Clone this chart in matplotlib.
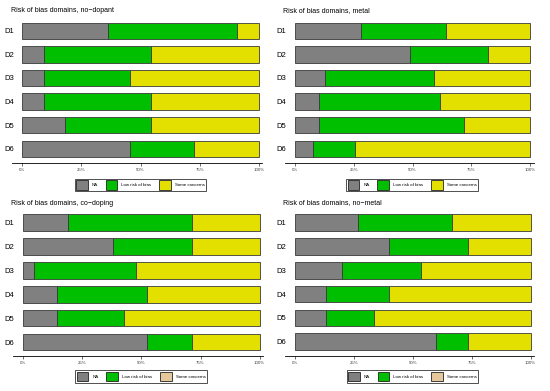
import numpy as np
import matplotlib
matplotlib.use('Agg')
import matplotlib.pyplot as plt
from matplotlib.patches import Patch

plt.rcParams['font.family'] = ['Liberation Sans', 'DejaVu Sans']

W, H = 550, 391

domains = ['D1', 'D2', 'D3', 'D4', 'D5', 'D6']
categories = ['NA', 'Low risk of bias', 'Some concerns']

titles = ['Risk of bias domains, no\u2212dopant',
          'Risk of bias domains, metal',
          'Risk of bias domains, co\u2212doping',
          'Risk of bias domains, no\u2212metal']

# number of studies per domain: NA, low risk, some concerns
nodopant_na = [4, 1, 1, 1, 2, 5]
nodopant_low = [6, 5, 4, 5, 4, 3]
nodopant_some = [1, 5, 6, 5, 5, 3]

metal_na = [11, 19, 5, 4, 4, 3]
metal_low = [14, 13, 18, 20, 24, 7]
metal_some = [14, 7, 16, 15, 11, 29]

codoping_na = [4, 8, 1, 3, 3, 11]
codoping_low = [11, 7, 9, 8, 6, 4]
codoping_some = [6, 6, 11, 10, 12, 6]

nometal_na = [4, 6, 3, 2, 2, 9]
nometal_low = [6, 5, 5, 4, 3, 2]
nometal_some = [5, 4, 7, 9, 10, 4]

col_na = '#808080'
col_low = '#00bf00'
col_some = '#e3e000'
col_some_legend = ['#e3e000', '#e3e000', '#e4c89c', '#e4c89c']

# pixel layout per panel: x of 0%, x of 100%, y of D1 centre, y of D6 centre, legend box, title pos
panels = [
    (22.3, 259.0, 30.8, 148.7, (73, 177, 208, 193), (11, 11)),
    (295.0, 530.3, 30.8, 148.7, (345, 177, 479, 193), (283, 11)),
    (23.0, 259.7, 222.7, 342.0, (73, 368, 209, 385), (11, 203)),
    (295.0, 530.7, 222.7, 341.7, (345, 368, 480, 385), (283, 203)),
]

data = [(nodopant_na, nodopant_low, nodopant_some),
        (metal_na, metal_low, metal_some),
        (codoping_na, codoping_low, codoping_some),
        (nometal_na, nometal_low, nometal_some)]

fig = plt.figure(figsize=(W / 100, H / 100), dpi=100)

for i in range(4):
    x0, x100, yc1, yc6, lbox, tpos = panels[i]
    na, low, some = [np.array(v, dtype=float) for v in data[i]]
    tot = na + low + some
    na_p = na / tot * 100
    low_p = low / tot * 100
    some_p = some / tot * 100

    sx = (x100 - x0) / 100.0
    sp = (yc6 - yc1) / 5.0
    xl, xr = -4.3, 101.4
    yt, yb = -0.6, 5.6
    left = x0 + xl * sx
    right = x0 + xr * sx
    top = yc1 + yt * sp
    bottom = yc1 + yb * sp
    ax = fig.add_axes([left / W, 1 - bottom / H, (right - left) / W, (bottom - top) / H])

    y = np.arange(len(domains))
    kw = dict(height=0.69, edgecolor='#3a3a3a', linewidth=0.6)
    ax.barh(y, na_p, color=col_na, **kw)
    ax.barh(y, low_p, left=na_p, color=col_low, **kw)
    ax.barh(y, some_p, left=na_p + low_p, color=col_some, **kw)

    ax.set_xlim(xl, xr)
    ax.set_ylim(yb, yt)
    ax.set_yticks(y)
    ax.set_yticklabels(domains, fontsize=5.5)
    ax.set_xticks([0, 25, 50, 75, 100])
    ax.set_xticklabels(['0%', '25%', '50%', '75%', '100%'], fontsize=3.2, color='#444444')
    ax.tick_params(axis='y', length=0, pad=-1.2)
    ax.tick_params(axis='x', length=2, width=0.5, pad=1.5, color='#333333')
    for s in ['top', 'right', 'left']:
        ax.spines[s].set_visible(False)
    ax.spines['bottom'].set_linewidth(0.6)
    ax.set_facecolor('none')

    fig.text(tpos[0] / W, 1 - tpos[1] / H, titles[i], fontsize=5.0, va='center', ha='left')

    handles = [Patch(facecolor=col_na, edgecolor='#222222', linewidth=0.6),
               Patch(facecolor=col_low, edgecolor='#222222', linewidth=0.6),
               Patch(facecolor=col_some_legend[i], edgecolor='#222222', linewidth=0.6)]
    lx0, ly0, lx1, ly1 = lbox
    leg = fig.legend(handles, categories, loc='center',
                     bbox_to_anchor=((lx0 + lx1) / 2 / W, 1 - (ly0 + ly1) / 2 / H),
                     ncol=3, fontsize=3.2, frameon=True, fancybox=False,
                     handlelength=2.6, handleheight=2.8, handletextpad=0.9,
                     columnspacing=1.8, borderpad=0.35, borderaxespad=0)
    leg.get_frame().set_edgecolor('#222222')
    leg.get_frame().set_linewidth(0.7)

plt.savefig('out.png', dpi=100)
